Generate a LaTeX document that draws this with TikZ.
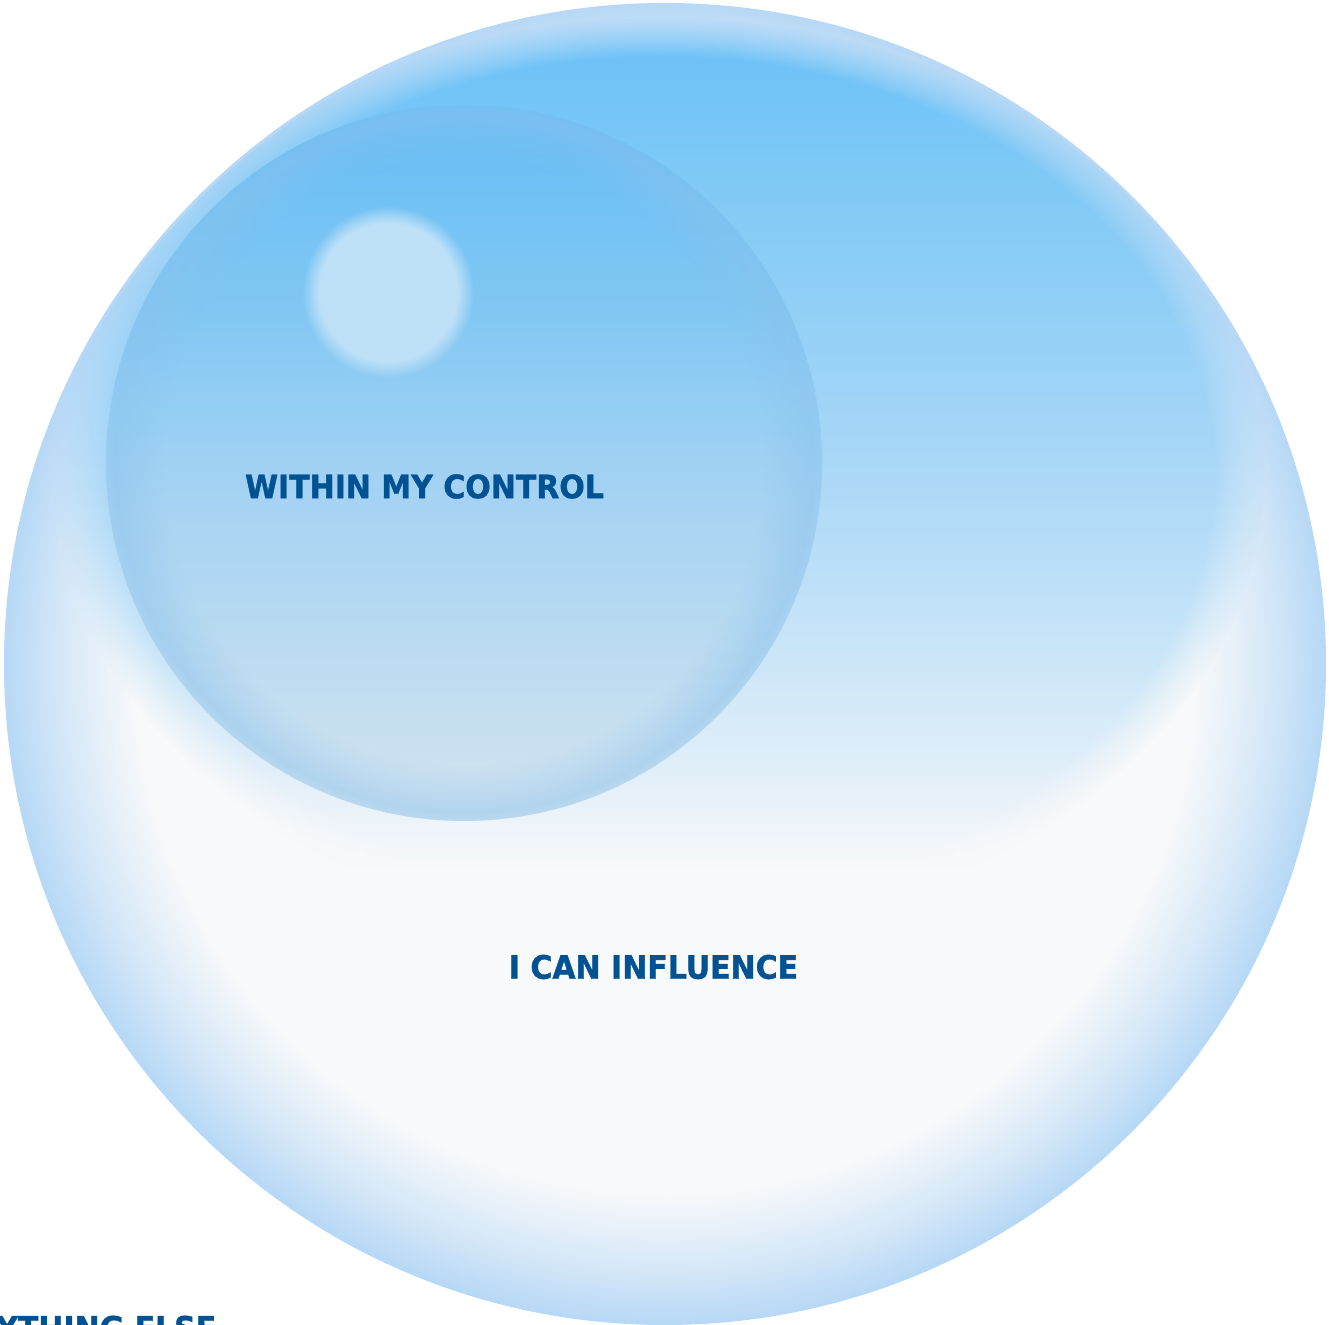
\documentclass[tikz,border=0pt]{standalone}
\usepackage{fontspec}
\newfontfamily\ringfont[FakeStretch=0.93, BoldFeatures={FakeBold=1.2}]{DejaVu Sans}
\usetikzlibrary{fadings}

\definecolor{paper}{HTML}{F8F9FA}
\definecolor{rimblue}{HTML}{B6D8F6}
\definecolor{captop}{HTML}{6EC2F7}
\definecolor{capupper}{HTML}{82CAF6}
\definecolor{capmid}{HTML}{A6D6F7}
\definecolor{caplow}{HTML}{C8E5F8}
\definecolor{capfaint}{HTML}{E2EFF9}
\definecolor{balltop}{HTML}{6BBFF5}
\definecolor{ballupper}{HTML}{80C7F3}
\definecolor{ballmid}{HTML}{A0D1F3}
\definecolor{balllow}{HTML}{BBDBF1}
\definecolor{ballbot}{HTML}{D0E3F1}
\definecolor{ringblue}{HTML}{8CC2EC}
\definecolor{glint}{HTML}{BEE1F8}
\definecolor{inkblue}{RGB}{0,82,147}

% outer bubble: white inside, blue rim
\pgfdeclareradialshading{bubbleshade}{\pgfpointorigin}{color(0bp)=(paper); color(20bp)=(paper); color(23bp)=(rimblue!55!paper); color(25bp)=(rimblue); color(50bp)=(rimblue)}
% blue cap in the upper part of the outer bubble
\pgfdeclareverticalshading{capshade}{100bp}{color(0bp)=(paper); color(28.5bp)=(paper); color(33.7bp)=(capfaint); color(40.8bp)=(caplow); color(51.6bp)=(capmid); color(65bp)=(capupper); color(73bp)=(captop); color(100bp)=(captop)}
\pgfdeclareradialshading{capmask}{\pgfpointorigin}{color(0bp)=(white); color(22.8bp)=(white); color(25bp)=(black); color(50bp)=(black)}
\pgfdeclarefading{capedge}{\pgfuseshading{capmask}}
% inner ball
\pgfdeclareverticalshading{ballshade}{100bp}{color(0bp)=(ballbot); color(27bp)=(ballbot); color(37bp)=(balllow); color(50bp)=(ballmid); color(61bp)=(ballupper); color(72bp)=(balltop); color(100bp)=(balltop)}
\pgfdeclareradialshading{ringmask}{\pgfpointorigin}{color(0bp)=(black); color(21bp)=(black); color(24.3bp)=(white!45!black); color(25bp)=(white!30!black); color(50bp)=(white!30!black)}
\pgfdeclarefading{ballring}{\pgfuseshading{ringmask}}

\begin{document}
\begin{tikzpicture}[x=0.01cm, y=-0.01cm,
    ringtext/.style={inner sep=0pt, text=inkblue, font=\ringfont\bfseries\fontsize{9.16pt}{11pt}\selectfont}]
    \useasboundingbox (0,0) rectangle (1329,1325);
    \clip (0,0) rectangle (1329,1325);
    % Outer bubble
    \shade[shading=bubbleshade] (665,664) circle (661);
    \begin{scope}
        \clip (665,664) circle (658);
        \shade[shading=capshade, path fading=capedge] (660,476) ellipse [x radius=605, y radius=458];
    \end{scope}
    % Inner ball
    \shade[shading=ballshade] (464,463) circle (358);
    \fill[ringblue, path fading=ballring] (464,463) circle (358);
    \fill[glint, path fading=circle with fuzzy edge 20 percent] (388,292) circle (86);
    % Labels
    \node[ringtext] (control) at (424.5,486.5) {WITHIN MY CONTROL};
    \node[ringtext] (influence) at (653.5,967) {I CAN INFLUENCE};
    \node[ringtext, anchor=north east] (rest) at (217,1315) {ANYTHING ELSE};
\end{tikzpicture}
\end{document}
